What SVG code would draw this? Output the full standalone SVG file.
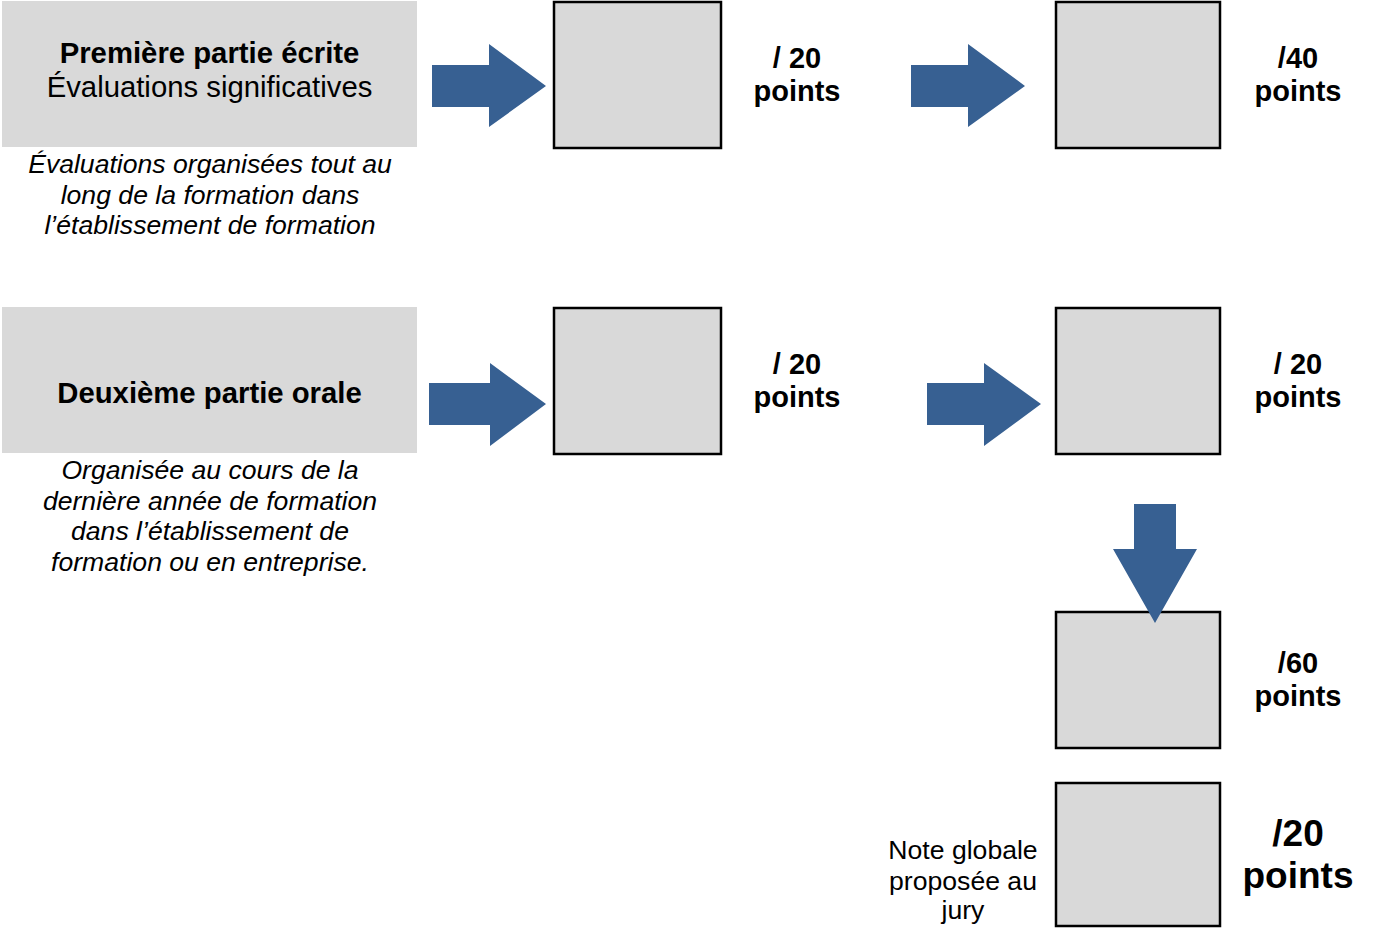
<svg xmlns="http://www.w3.org/2000/svg" width="1374" height="931" viewBox="0 0 1374 931">
<defs>
<style>
.hdr{fill:#d9d9d9}
.box{fill:#d9d9d9;stroke:#000;stroke-width:2.5}
.arr{fill:#376092}
text{font-family:"Liberation Sans",Arial,sans-serif;fill:#000;text-anchor:middle}
.h{font-size:29.3px}
.b{font-weight:bold}
.it{font-size:26.6px;font-style:italic}
.pt{font-size:29px;font-weight:bold}
.big{font-size:37px;font-weight:bold}
.note{font-size:26.6px}
</style>
</defs>
<rect width="1374" height="931" fill="#fff"/>
<g id="part1">
<rect class="hdr" x="2" y="1" width="415" height="146"/>
<text class="h b" x="209.5" y="63">Première partie écrite</text>
<text class="h" x="209.5" y="97">Évaluations significatives</text>
<text class="it" x="210" y="173">Évaluations organisées tout au</text>
<text class="it" x="210" y="204">long de la formation dans</text>
<text class="it" x="210" y="234">l’établissement de formation</text>
</g>
<g id="part2">
<rect class="hdr" x="2" y="307" width="415" height="146"/>
<text class="h b" x="209.5" y="403">Deuxième partie orale</text>
<text class="it" x="210" y="479">Organisée au cours de la</text>
<text class="it" x="210" y="510">dernière année de formation</text>
<text class="it" x="210" y="540">dans l’établissement de</text>
<text class="it" x="210" y="571">formation ou en entreprise.</text>
</g>
<g id="score1">
<rect class="box" x="554" y="2" width="167" height="146"/>
<text class="pt" x="797" y="68">/ 20</text>
<text class="pt" x="797" y="101">points</text>
</g>
<g id="score2">
<rect class="box" x="1056" y="2" width="164" height="146"/>
<text class="pt" x="1298" y="68">/40</text>
<text class="pt" x="1298" y="101">points</text>
</g>
<g id="score3">
<rect class="box" x="554" y="308" width="167" height="146"/>
<text class="pt" x="797" y="374">/ 20</text>
<text class="pt" x="797" y="407">points</text>
</g>
<g id="score4">
<rect class="box" x="1056" y="308" width="164" height="146"/>
<text class="pt" x="1298" y="374">/ 20</text>
<text class="pt" x="1298" y="407">points</text>
</g>
<g id="score5">
<rect class="box" x="1056" y="612" width="164" height="136"/>
<text class="pt" x="1298" y="673">/60</text>
<text class="pt" x="1298" y="706">points</text>
</g>
<g id="final">
<rect class="box" x="1056" y="783" width="164" height="143"/>
<text class="big" x="1298" y="846">/20</text>
<text class="big" x="1298" y="888">points</text>
<text class="note" x="963" y="859">Note globale</text>
<text class="note" x="963" y="890">proposée au</text>
<text class="note" x="963" y="919">jury</text>
</g>
<g id="connectors">
<polygon class="arr" points="432,65 489,65 489,44 546,86 489,127 489,107 432,107"/>
<polygon class="arr" points="911,65 968,65 968,44 1025,86 968,127 968,107 911,107"/>
<polygon class="arr" points="429,383 490,383 490,363 546,404 490,446 490,425 429,425"/>
<polygon class="arr" points="927,383 984,383 984,363 1041,404 984,446 984,425 927,425"/>
<polygon class="arr" points="1134,504 1176,504 1176,549 1197,549 1155,623 1113,549 1134,549"/>
</g>
</svg>
